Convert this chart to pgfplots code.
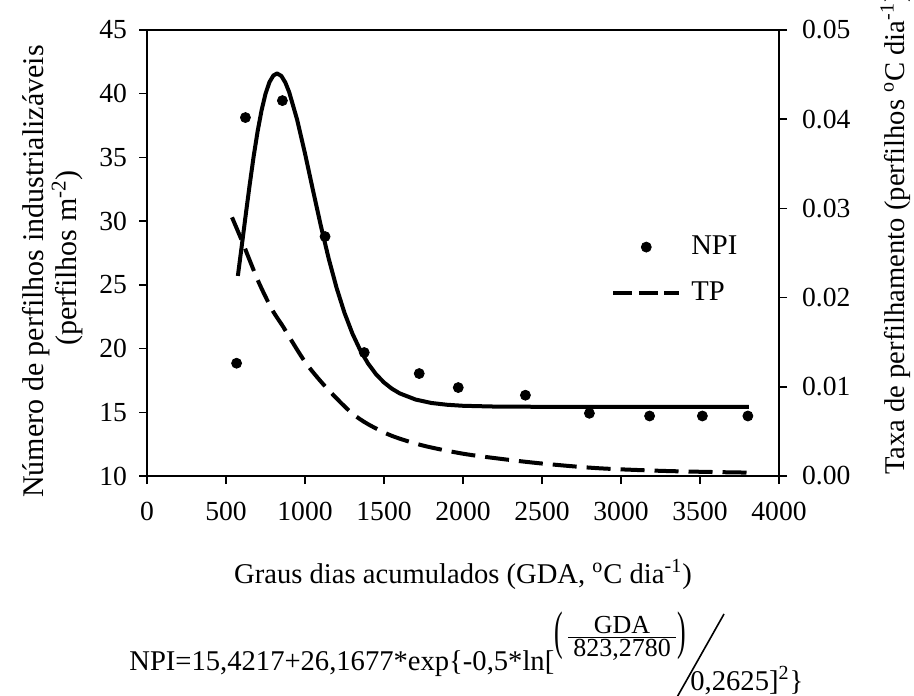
\documentclass[border=0pt]{standalone}
\usepackage{pgfplots}
\pgfplotsset{compat=1.18}
\usepackage{pgfplotstable}
\usepackage{graphicx}
\usepackage{fontspec}
\setmainfont{Liberation Serif}
\newcommand\lblfont{\fontsize{14.3}{16.5}\selectfont}
\newcommand\ylblfont{\fontsize{15}{17}\selectfont}
\newcommand\rlblfont{\fontsize{14.3}{17}\selectfont}
\newcommand\fracfont{\fontsize{13}{13}\selectfont}
\newcommand\tckfont{\fontsize{13.8}{13.8}\selectfont}

\pgfplotstableread{
x y
567 18.85
623 38.13
857 39.46
1127 28.79
1375 19.69
1723 18.04
1970 16.94
2395 16.34
2800 14.92
3181 14.71
3515 14.71
3803 14.71
}\npidata

\pgfplotstableread{
x y
575 25.70
600 28.08
625 30.51
650 32.87
675 35.08
700 37.04
725 38.69
750 39.99
775 40.91
800 41.43
823 41.59
850 41.40
875 40.89
900 40.12
950 37.97
1000 35.31
1050 32.45
1100 29.65
1150 27.06
1200 24.76
1250 22.80
1300 21.18
1350 19.86
1400 18.81
1450 17.98
1500 17.34
1550 16.85
1600 16.48
1700 16.00
1800 15.73
1900 15.59
2000 15.51
2200 15.45
2500 15.43
3000 15.42
3500 15.42
3810 15.42
}\fitdata

\pgfplotstableread{
x y
538 0.0290
600 0.0264
654 0.0240
700 0.0220
750 0.0201
800 0.0184
863 0.0167
900 0.0156
1000 0.0128
1100 0.0106
1200 0.0087
1300 0.0070
1400 0.0058
1550 0.0045
1750 0.0034
2000 0.0025
2250 0.0019
2500 0.0014
2850 0.00088
3250 0.00058
3600 0.00044
3850 0.00037
}\tpdata

\begin{document}
\begin{tikzpicture}[x=0.5pt,y=-0.5pt]
\useasboundingbox (0,0) rectangle (914,695);
\begin{axis}[
  at={(73.5pt,-238pt)}, anchor=south west,
  scale only axis, width=316pt, height=223pt,
  xmin=0, xmax=4000, ymin=10, ymax=45,
  xtick={0,500,...,4000}, ytick={10,15,...,45},
  xtick pos=left, ytick pos=left,
  tick align=outside, major tick length=4pt,
  axis line style={line width=0.7pt},
  every tick/.style={black, line width=0.7pt},
  tick label style={font=\tckfont},
  xticklabel style={yshift=-5.5pt},
  yticklabel style={xshift=-2.5pt},
  /pgf/number format/assume math mode=true,
  /pgf/number format/1000 sep={},
  scaled ticks=false,
]
\addplot[only marks, mark=*, mark size=2.5pt, black] table {\npidata};
\addplot[black, line width=2pt, line join=round] table {\fitdata};
\end{axis}
\begin{axis}[
  at={(73.5pt,-238pt)}, anchor=south west,
  scale only axis, width=316pt, height=223pt,
  xmin=0, xmax=4000, ymin=0, ymax=0.05,
  axis x line=none, axis y line*=right,
  ytick={0,0.01,0.02,0.03,0.04,0.05},
  ytick pos=right,
  tick align=outside, major tick length=4pt,
  axis line style={line width=0.7pt, -},
  every tick/.style={black, line width=0.7pt},
  tick label style={font=\tckfont},
  yticklabel style={xshift=4pt, /pgf/number format/.cd, fixed, fixed zerofill, precision=2, assume math mode=true},
  scaled y ticks=false,
  legend style={draw=none, fill=none, at={(0.734,0.5385)}, anchor=north west,
    font=\lblfont, inner sep=0pt, row sep=12pt, column sep=5pt,
    nodes={inner sep=0pt}},
  legend cell align=left,
]
\addlegendimage{only marks, mark=*, mark size=2.5pt, black,
  legend image code/.code={\draw[black, fill=black] plot[only marks, mark=*, mark size=2.5pt] coordinates {(16.5pt,0pt)}; \path (0pt,0pt) (33pt,0pt);}}
\addlegendentry{NPI}
\addplot[black, line width=2pt, dash pattern=on 12pt off 5pt, smooth,
  legend image code/.code={\draw[black, line width=2pt, dash pattern=on 9.5pt off 3.3pt] (0pt,0pt) -- (33pt,0pt);}] table {\tpdata};
\addlegendentry{TP}
\end{axis}
% axis titles
\node[anchor=base, inner sep=0pt, font=\lblfont] at (463,583) {Graus dias acumulados (GDA, \textsuperscript{o}C dia\textsuperscript{-1})};
\node[rotate=90, anchor=base, inner sep=0pt, font=\ylblfont] at (43,271.5) {Número de perfilhos industrializáveis};
\node[rotate=90, anchor=base, inner sep=0pt, font=\ylblfont] at (76,258) {(perfilhos m\textsuperscript{-2})};
\node[rotate=90, anchor=base, inner sep=0pt, font=\rlblfont] at (904,234) {Taxa de perfilhamento (perfilhos \textsuperscript{o}C dia\textsuperscript{-1})};
% equation
\node[anchor=base west, inner sep=0pt, font=\lblfont] at (129,670) {NPI=15,4217+26,1677*exp\{-0,5*ln[};
\node[inner sep=0pt, font=\lblfont] at (559,636) {\scalebox{0.9}[1.85]{(}};
\node[anchor=base, inner sep=0pt, font=\fracfont] at (622,633) {GDA};
\draw[line width=0.6pt] (568,637.5) -- (676,637.5);
\node[anchor=base, inner sep=0pt, font=\fracfont] at (622,656) {823,2780};
\node[inner sep=0pt, font=\lblfont] at (682,636) {\scalebox{0.9}[1.85]{)}};
\draw[line width=0.8pt] (676,699) -- (724,614);
\node[anchor=base west, inner sep=0pt, font=\lblfont] at (690,690) {0,2625]\textsuperscript{2}\}};
\end{tikzpicture}
\end{document}
